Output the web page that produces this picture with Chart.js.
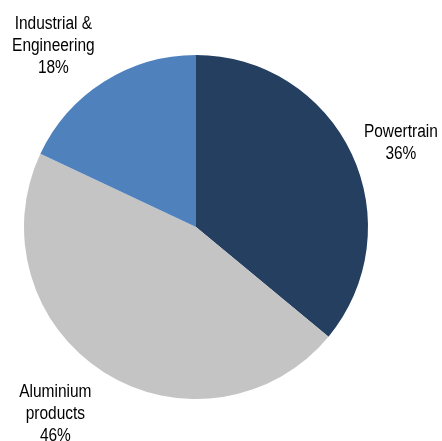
<!DOCTYPE html>
<html>
<head>
<meta charset="utf-8">
<script src="https://cdn.jsdelivr.net/npm/chart.js"></script>
<style>
  html, body { margin: 0; padding: 0; background: #fff; }
  #wrap { width: 442px; height: 441px; position: relative; }
</style>
</head>
<body>
<div id="wrap"><canvas id="grafico"></canvas></div>
<script>
// ------ Dados ------
const categorias = [["Powertrain"], ["Aluminium", "products"], ["Industrial &", "Engineering"]];
const valores = [36, 46, 18];
const cores = ["#243F60", "#C4C4C4", "#4F81BD"];

// deslocamento dos rótulos (raio extra, ajuste x/y)
const ajusteRotulos = [
  { r: 50, dx: 4, dy: 11 },
  { r: 55, dx: -19, dy: -5 },
  { r: 55, dx: -21, dy: 11 },
];

const FONTE = '"Liberation Sans", Arial, sans-serif';

// plugin simples pra escrever os rótulos fora da pizza
// (fonte "estreita" simulada com escala horizontal)
const rotulosExternos = {
  id: "rotulosExternos",
  afterDatasetsDraw(chart) {
    const ctx = chart.ctx;
    const meta = chart.getDatasetMeta(0);
    meta.data.forEach((arc, i) => {
      const p = arc.getProps(["x", "y", "startAngle", "endAngle", "outerRadius"], true);
      const meio = (p.startAngle + p.endAngle) / 2;
      const aj = ajusteRotulos[i];
      const raio = p.outerRadius + aj.r;
      const cx = p.x + Math.cos(meio) * raio + aj.dx;
      const cy = p.y + Math.sin(meio) * raio + aj.dy;
      const linhas = categorias[i].concat([valores[i] + "%"]);
      const alt = 22;
      const y0 = cy - (linhas.length - 1) * alt / 2;
      linhas.forEach((t, k) => {
        ctx.save();
        ctx.translate(cx, y0 + k * alt);
        ctx.scale(0.86, 1);
        ctx.font = "18px " + FONTE;
        ctx.fillStyle = "#000";
        ctx.textAlign = "center";
        ctx.textBaseline = "middle";
        ctx.fillText(t, 0, 0);
        ctx.restore();
      });
    });
  },
};

document.addEventListener("DOMContentLoaded", () => {
  new Chart(document.getElementById("grafico"), {
    type: "pie",
    data: {
      labels: categorias.map(c => c.join(" ")),
      datasets: [{
        data: valores,
        backgroundColor: cores,
        borderWidth: 0,
      }],
    },
    options: {
      responsive: true,
      maintainAspectRatio: false,
      animation: false,
      layout: { padding: { left: 24, right: 74, top: 55, bottom: 42 } },
      plugins: { legend: { display: false }, tooltip: { enabled: false } },
    },
    plugins: [rotulosExternos],
  });
});
</script>
</body>
</html>
